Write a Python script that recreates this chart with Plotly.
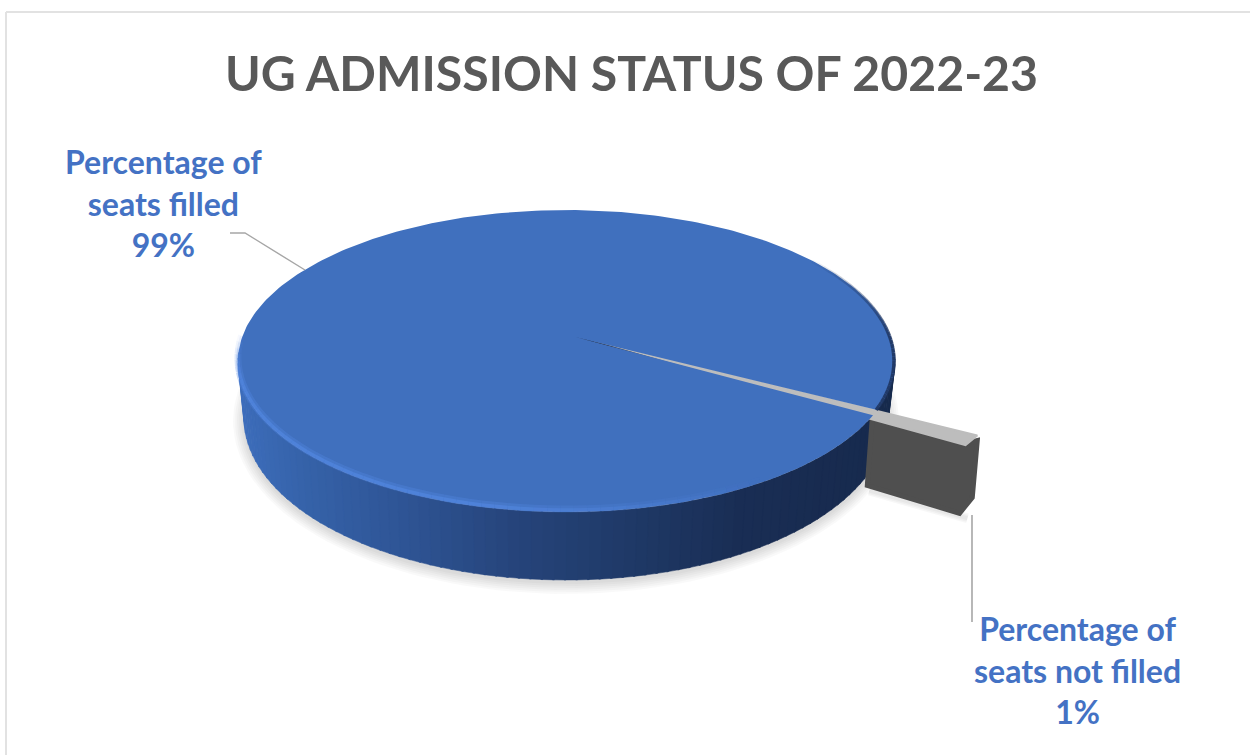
import numpy as np
import plotly.graph_objects as go

# ---- data ----
categories = ["Percentage of<br>seats filled", "Percentage of<br>seats not filled"]
values = [99, 1]
title_text = "UG ADMISSION STATUS OF 2022-23"

# ---- style / geometry ----
BLUE = "#4070BE"
LABEL = "#4472C4"
apex = np.array([575.0, 337.0])
cx, cy, rx, ry = 566.5, 361.0, 328.5, 151.0
bcx, bcy, brx, bry = 566.0, 418.0, 322.0, 162.0
A, B = 453.0, 214.0
t_up = np.radians(27.1)
sweep = values[1] / sum(values) * 2 * np.pi
t_low = t_up + sweep


def rim(t):
    return np.array([cx + rx * np.cos(t), cy + ry * np.sin(t)])


def bottom(t):
    return np.array([bcx + brx * np.cos(t), bcy + bry * np.sin(t)])


def tip(t):
    return apex + np.array([A * np.cos(t), B * np.sin(t)])


def rim_hit(t_edge):
    """rim parameter where the ray apex -> tip(t_edge) crosses the disc rim"""
    d = tip(t_edge) - apex
    ang = np.arctan2(d[1], d[0])
    ts = np.linspace(-0.5, 1.5, 4001)
    pts = np.array([rim(t) for t in ts]) - apex
    return ts[np.argmin(np.abs(np.arctan2(pts[:, 1], pts[:, 0]) - ang))]


fig = go.Figure()


def poly(pts, fill, line=None, width=0):
    pts = np.asarray(pts)
    fig.add_trace(go.Scatter(
        x=np.r_[pts[:, 0], pts[0, 0]], y=np.r_[pts[:, 1], pts[0, 1]],
        mode="lines", fill="toself", fillcolor=fill,
        line=dict(color=line or "rgba(0,0,0,0)", width=width),
        hoverinfo="skip", showlegend=False))


def seg(pts, color, width):
    pts = np.asarray(pts)
    fig.add_trace(go.Scatter(x=pts[:, 0], y=pts[:, 1], mode="lines",
                             line=dict(color=color, width=width),
                             hoverinfo="skip", showlegend=False))


# soft shadow under the disc
ts_full = np.linspace(0, 2 * np.pi, 181)
for grow in [11, 9, 7, 5, 3, 1]:
    poly([[bcx + (brx + grow) * np.cos(t), bcy + 3 + (bry + grow) * np.sin(t)] for t in ts_full],
         "rgba(0,0,0,0.022)")

# shadow of the slice
tr = rim_hit(t_low)
s_a, s_b = rim(tr) + [0, 69], tip(t_low) + [0, 70]
for w in [10, 7, 4]:
    seg([s_a + [0, 2], s_b + [3, 2]], "rgba(0,0,0,0.03)", w)

# side wall, with a gradient from left to right
stops_x = [235, 300, 400, 520, 640, 740, 900]
stops_r = [62, 54, 47, 38, 31, 26, 23]
stops_g = [110, 99, 85, 68, 57, 46, 42]
stops_b = [188, 170, 150, 122, 102, 85, 77]
edges = np.linspace(-0.05, np.pi + 0.05, 91)
for t1, t2 in zip(edges[:-1], edges[1:]):
    xm = rim((t1 + t2) / 2)[0]
    col = "rgb(%d,%d,%d)" % (np.interp(xm, stops_x, stops_r),
                             np.interp(xm, stops_x, stops_g),
                             np.interp(xm, stops_x, stops_b))
    poly([rim(t1), rim(t2 + 0.006), bottom(t2 + 0.006), bottom(t1)], col, col, 0.5)

# exploded slice: cut wall and light top strip
ru = tip(t_up)
rl = tip(t_low)
rim_low = rim(tr)
wall_pts = [rim_low + [3, -2], rl + [-2, -2], ru + [-1, 6],
            ru + [-6, 63], rl + [-5, 67], rim_low + [-2, 66]]
poly(wall_pts, "#4F4F4F", "#4F4F4F", 5)
poly([apex, ru + [-1, 1], rl + [1, -1]], "#BDBDBD", "#BDBDBD", 2)
# dark seam fading out towards the rim
seam = np.linspace(0, 0.7, 15)
for f1, f2 in zip(seam[:-1], seam[1:]):
    base = apex + (rl - apex) * np.array([f1, f2])[:, None]
    seg(base + [0, -0.5], "rgba(30,42,66,%.3f)" % (1 - f1 / 0.7), 1.4)

# top face of the 99 % slice; its lower edge slightly overlaps the strip
tru = rim_hit(t_up)
tbl = rim_hit(t_low - 0.45 * sweep)
arc = np.linspace(tbl, tru + 2 * np.pi, 361)
poly([apex] + [rim(t) for t in arc], BLUE)

# dark fringe along the far right rim
fr = np.linspace(-0.75, tru, 40)
for t1, t2 in zip(fr[:-1], fr[1:]):
    a = 0.9 * np.clip((t1 + 0.75) / 0.6, 0, 1)
    seg([rim(t1) + [-1, 0], rim(t2) + [-1, 0]], "rgba(30,52,95,%.3f)" % a, 3.5)

# bevel highlight along the near rim
bev = np.linspace(0.9, np.pi + 0.15, 60)
for t1, t2 in zip(bev[:-1], bev[1:]):
    f = np.clip((t1 - 0.9) / 0.9, 0, 1)
    f2 = np.clip((np.pi + 0.15 - t1) / 0.3, 0, 1)
    p1, p2 = rim(t1), rim(t2)
    seg([p1 + [0, -3], p2 + [0, -3]], "rgba(84,136,226,%.3f)" % (0.35 * f * f2), 7)
    seg([p1 + [0, -2], p2 + [0, -2]], "rgba(84,136,226,%.3f)" % (0.6 * f * f2), 3.5)

# leader lines
seg(np.array([[230, 233], [245, 233], [305, 270]]), "#A6A6A6", 1.4)
seg(np.array([[972, 515], [972, 622]]), "#A6A6A6", 1.6)

fig.update_layout(
    width=1250, height=755, margin=dict(l=0, r=0, t=0, b=0),
    paper_bgcolor="white", plot_bgcolor="white", showlegend=False,
    xaxis=dict(range=[0, 1250], visible=False, fixedrange=True),
    yaxis=dict(range=[755, 0], visible=False, fixedrange=True),
    shapes=[
        dict(type="line", x0=6, x1=1250, y0=12, y1=12, line=dict(color="#E2E2E2", width=2)),
        dict(type="line", x0=6, x1=6, y0=12, y1=755, line=dict(color="#E2E2E2", width=2)),
    ],
    annotations=[
        dict(x=631.5, y=72, text=f"<b>{title_text}</b>", showarrow=False, xanchor="center",
             yanchor="middle", font=dict(family="Lato", size=48.2, color="#595959")),
        dict(x=163, y=203, text=f"<b>{categories[0]}<br>{values[0]}%</b>", showarrow=False,
             xanchor="center", yanchor="middle", font=dict(family="Lato", size=32, color=LABEL)),
        dict(x=1077, y=670, text=f"<b>{categories[1]}<br>{values[1]}%</b>", showarrow=False,
             xanchor="center", yanchor="middle", font=dict(family="Lato", size=32, color=LABEL)),
    ],
)
fig.write_html("out.html", config={"displayModeBar": False},
               post_script="document.body.style.margin='0';")
